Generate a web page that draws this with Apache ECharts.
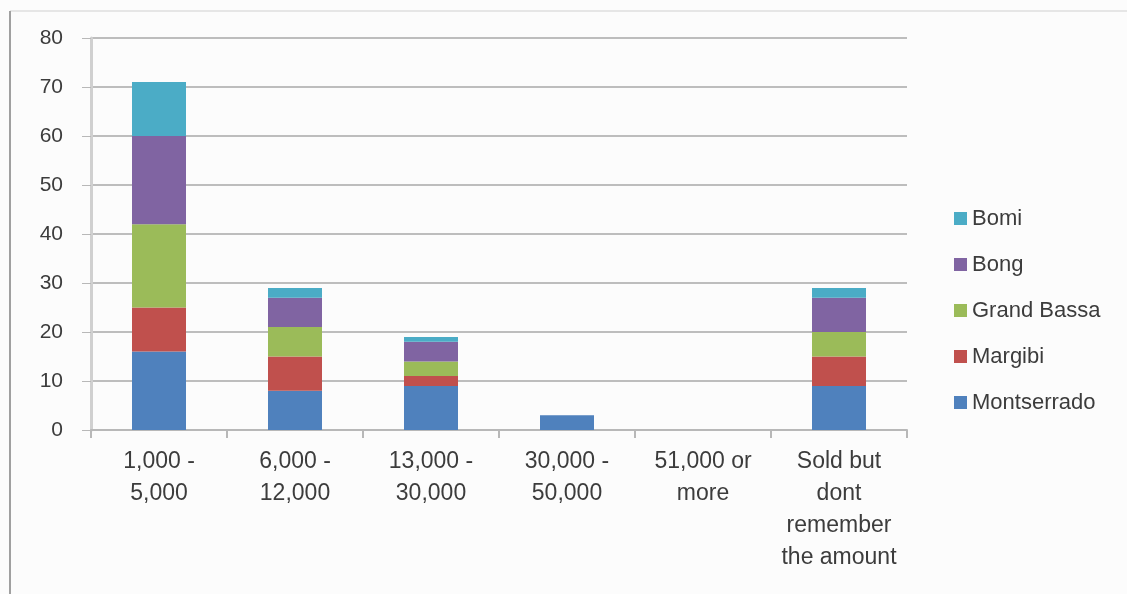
<!DOCTYPE html>
<html>
<head>
<meta charset="utf-8">
<script src="https://cdn.jsdelivr.net/npm/echarts@6/dist/echarts.min.js"></script>
<style>
  html, body { margin: 0; padding: 0; background: #fcfcfc; }
  #chart { width: 1127px; height: 594px; }
</style>
</head>
<body>
<div id="chart"></div>
<script>
// categories (price ranges)
var categories = [
  "1,000 -\n5,000",
  "6,000 -\n12,000",
  "13,000 -\n30,000",
  "30,000 -\n50,000",
  "51,000 or\nmore",
  "Sold but\ndont\nremember\nthe amount"
];

// series values, bottom to top of the stack
var montserrado = [16, 8, 9, 3, 0, 9];
var margibi = [9, 7, 2, 0, 0, 6];
var grandBassa = [17, 6, 3, 0, 0, 5];
var bong = [18, 6, 4, 0, 0, 7];
var bomi = [11, 2, 1, 0, 0, 2];

var seriesNames = ["Montserrado", "Margibi", "Grand Bassa", "Bong", "Bomi"];
var seriesData = [montserrado, margibi, grandBassa, bong, bomi];
var colors = ["#4f81bd", "#c0504d", "#9bbb59", "#8064a2", "#4bacc6"];

var font = "'Liberation Sans', Arial, sans-serif";
var textColor = "#3c3c3c";

var chart = echarts.init(document.getElementById("chart"));

var series = seriesNames.map(function (name, i) {
  return {
    name: name,
    type: "bar",
    stack: "total",
    barWidth: 54,
    itemStyle: { color: colors[i] },
    data: seriesData[i]
  };
});

var option = {
  backgroundColor: "#fcfcfc",
  animation: false,
  grid: {
    left: 91,
    right: 220,
    top: 38,
    bottom: 164
  },
  legend: {
    orient: "vertical",
    left: 949,
    top: 202,
    itemGap: 23,
    itemWidth: 13,
    itemHeight: 13,
    icon: "rect",
    data: seriesNames.slice().reverse(),
    textStyle: { fontFamily: font, fontSize: 22, lineHeight: 23, color: textColor }
  },
  xAxis: {
    type: "category",
    data: categories,
    axisLine: { lineStyle: { color: "#b8b8b8", width: 2 } },
    axisTick: { show: true, length: 8, lineStyle: { color: "#b8b8b8", width: 2 } },
    axisLabel: {
      interval: 0,
      margin: 16,
      fontFamily: font,
      fontSize: 23,
      lineHeight: 32,
      color: textColor
    }
  },
  yAxis: {
    type: "value",
    min: 0,
    max: 80,
    interval: 10,
    axisLine: { show: true, lineStyle: { color: "#d0d0d0", width: 3 } },
    axisTick: { show: true, length: 9, lineStyle: { color: "#b8b8b8", width: 1 } },
    splitLine: { lineStyle: { color: "#bdbdbd", width: 2 } },
    axisLabel: {
      margin: 28,
      fontFamily: font,
      fontSize: 21,
      color: textColor
    }
  },
  graphic: [
    {
      type: "line",
      shape: { x1: 10, y1: 11, x2: 1127, y2: 11 },
      style: { stroke: "#e6e6e6", lineWidth: 2 }
    },
    {
      type: "line",
      shape: { x1: 10, y1: 11, x2: 10, y2: 594 },
      style: { stroke: "#a0a0a0", lineWidth: 2 }
    }
  ],
  series: series
};

chart.setOption(option);
</script>
</body>
</html>
